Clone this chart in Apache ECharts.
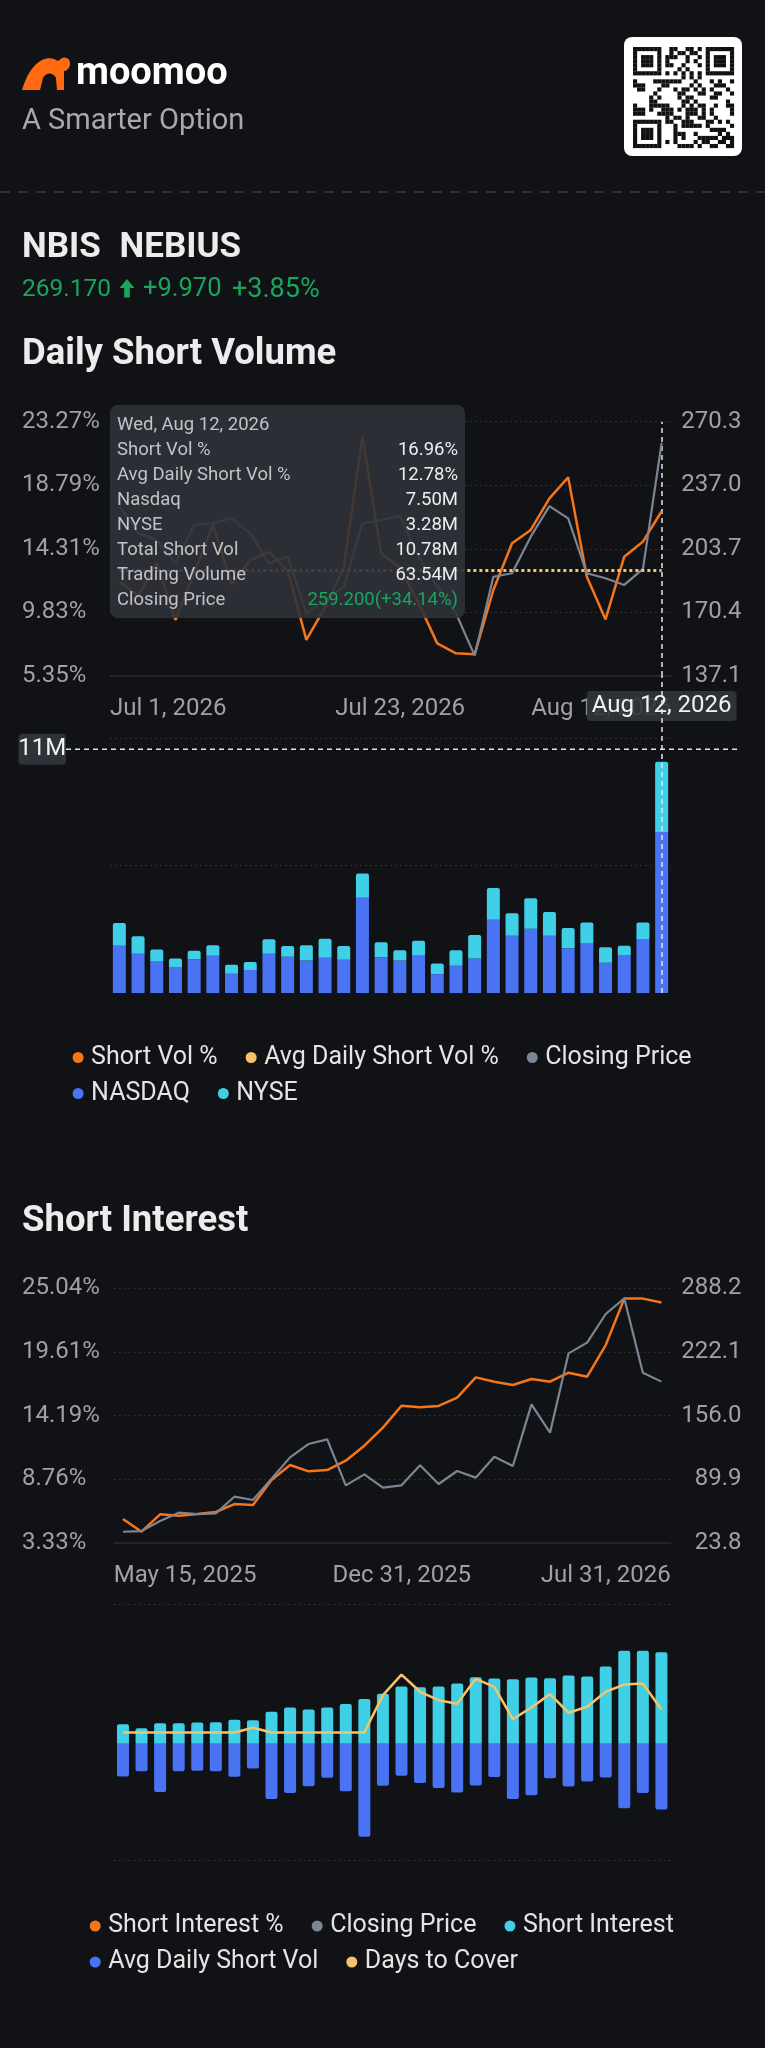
<!DOCTYPE html>
<html>
<head>
<meta charset="utf-8">
<script src="https://cdn.jsdelivr.net/npm/echarts@6/dist/echarts.min.js"></script>
<style>
html,body{margin:0;padding:0;background:#111215;}
#c{width:765px;height:2048px;}
</style>
</head>
<body>
<div id="c"></div>
<script>
// ---------- Daily Short Volume data ----------
const dailyDates = ['Jul 1, 2026','Jul 2, 2026','Jul 6, 2026','Jul 7, 2026','Jul 8, 2026','Jul 9, 2026','Jul 10, 2026',
  'Jul 13, 2026','Jul 14, 2026','Jul 15, 2026','Jul 16, 2026','Jul 17, 2026','Jul 20, 2026','Jul 21, 2026','Jul 22, 2026',
  'Jul 23, 2026','Jul 24, 2026','Jul 27, 2026','Jul 28, 2026','Jul 29, 2026','Jul 30, 2026','Jul 31, 2026',
  'Aug 3, 2026','Aug 4, 2026','Aug 5, 2026','Aug 6, 2026','Aug 7, 2026','Aug 10, 2026','Aug 11, 2026','Aug 12, 2026'];
const dailyShortVolPct = [12.0,11.0,13.3,9.3,12.6,16.0,11.8,13.5,14.1,12.8,7.9,10.2,13.0,22.2,14.0,
  13.0,10.5,7.65,6.95,6.88,11.41,14.70,15.64,17.87,19.35,12.35,9.34,13.76,14.82,16.96];
const dailyAvgShortVolPct = [12.78,12.78,12.78,12.78,12.78,12.78,12.78,12.78,12.78,12.78,12.78,12.78,12.78,12.78,12.78,
  12.78,12.78,12.78,12.78,12.78,12.78,12.78,12.78,12.78,12.78,12.78,12.78,12.78,12.78,12.78];
const dailyClose = [226,212,208.3,196.1,216.2,217.1,219.7,211.8,196.1,199.6,170,177,183.8,217.1,218.8,
  221,199.6,184,170,147.8,189.1,190.9,210.1,226.1,219.7,190.9,188.3,184.8,193.23,259.2];
const dailyNasdaq = [2.20,1.83,1.47,1.19,1.57,1.74,0.90,1.07,1.83,1.69,1.51,1.64,1.55,4.44,1.66,
  1.51,1.75,0.88,1.27,1.61,3.41,2.67,2.99,2.67,2.08,2.31,1.41,1.77,2.51,7.50];
const dailyNyse = [1.06,0.81,0.56,0.42,0.40,0.48,0.42,0.37,0.67,0.50,0.71,0.89,0.64,1.13,0.70,
  0.48,0.69,0.49,0.72,1.09,1.48,1.05,1.42,1.10,0.95,0.98,0.72,0.43,0.78,3.28];
const dailyPctTicks = ['5.35%','9.83%','14.31%','18.79%','23.27%'];
const dailyPriceTicks = ['137.1','170.4','203.7','237.0','270.3'];
const dailyLabelIdx = [0,15,29];
const tipIndex = 29;
const tipTradingVolume = 63.54;   // M, highlighted day
const pointerVolume = 11.36;      // M, horizontal cross-hair level

// ---------- Short Interest data ----------
const siDates = ['May 15, 2025','May 30, 2025','Jun 13, 2025','Jun 30, 2025','Jul 15, 2025','Jul 31, 2025',
  'Aug 15, 2025','Aug 29, 2025','Sep 15, 2025','Sep 30, 2025','Oct 15, 2025','Oct 31, 2025','Nov 14, 2025',
  'Nov 28, 2025','Dec 15, 2025','Dec 31, 2025','Jan 15, 2026','Jan 30, 2026','Feb 13, 2026','Feb 27, 2026',
  'Mar 13, 2026','Mar 31, 2026','Apr 15, 2026','Apr 30, 2026','May 15, 2026','May 29, 2026','Jun 15, 2026',
  'Jun 30, 2026','Jul 15, 2026','Jul 31, 2026'];
const siPct = [5.35,4.27,5.75,5.64,5.78,5.95,6.63,6.55,8.68,9.96,9.42,9.53,10.33,11.61,13.15,
  15.02,14.88,15.00,15.71,17.44,17.07,16.79,17.30,17.07,17.84,17.50,20.20,24.16,24.16,23.82];
const siClose = [35.2,35.9,46.3,55.0,53.6,54.3,71.6,68.2,90.3,112.5,126.4,131.2,83.4,94.8,81.0,
  83.4,104.2,84.8,98.3,91.4,113.2,103.5,167.6,138.2,220.6,231.7,261.5,277.8,200.5,191.2];
const siShares = [11.8,9.4,12.4,12.4,12.8,13.0,14.4,14.2,19.3,21.9,20.7,21.9,23.9,26.9,30.1,
  34.5,34.1,34.5,36.3,40.1,39.3,38.9,39.9,39.5,41.1,40.5,46.5,56.0,56.0,55.1];
const siAvgShortVol = [1.39,1.17,2.05,1.17,1.15,1.17,1.40,1.05,2.35,2.09,1.81,1.44,2.02,3.96,1.78,
  1.36,1.67,1.88,2.07,1.77,1.41,2.35,2.19,1.47,1.82,1.60,1.43,2.74,2.09,2.80];
const siDaysToCover = [1,1,1,1,1,1,1,1.4,1,1,1,1,1,1,4.2,
  5.97,4.49,3.77,3.46,5.6,4.91,2.14,3.14,4.29,2.69,3.2,4.49,5.11,5.2,2.97];
const siPctTicks = ['3.33%','8.76%','14.19%','19.61%','25.04%'];
const siPriceTicks = ['23.8','89.9','156.0','222.1','288.2'];
const siLabelIdx = [0,15,29];

// ---------- styles ----------
const FONT = 'Roboto, "Noto Sans", sans-serif';
const C = {
  bg:'#111215', orange:'#f5761a', yellow:'#f6c36a', gray:'#7c8594', blue:'#4a73f4', cyan:'#3fcfe6',
  label:'#a0a1a6', grid:'#2d2f33', axis:'#2a2c30', green:'#18a65e', white:'#ececec'
};
const dotted = {color:C.grid, type:[2,3], width:1};
const pointerLine = {color:'#e4e4e4', type:[5,4], width:1.5};

// logo shape (bull head)
echarts.graphic.registerShape('moomooBull', echarts.graphic.extendShape({
  shape:{x:0, y:0},
  buildPath:function(ctx, s){
    const x = s.x, y = s.y;
    ctx.moveTo(x+0, y+33);
    ctx.bezierCurveTo(x+4, y+20, x+10, y+8, x+20, y+3);
    ctx.bezierCurveTo(x+26, y+0, x+32, y+1, x+36, y+4);
    ctx.lineTo(x+40, y+1);
    ctx.bezierCurveTo(x+44, y-1, x+49, y+2, x+48, y+8);
    ctx.bezierCurveTo(x+47, y+12, x+44, y+14, x+42, y+14);
    ctx.lineTo(x+42, y+33);
    ctx.lineTo(x+35, y+33);
    ctx.lineTo(x+34, y+21);
    ctx.bezierCurveTo(x+31, y+15, x+24, y+15, x+21, y+21);
    ctx.lineTo(x+18, y+33);
    ctx.closePath();
  }
}));

const chart = echarts.init(document.getElementById('c'), null, {renderer:'canvas', width:765, height:2048});

const hiddenCat = (grid, data, extra) => Object.assign({
  type:'category', gridIndex:grid, data:data, boundaryGap:true, position:'bottom',
  axisLine:{show:false}, axisTick:{show:false}, axisLabel:{show:false}, splitLine:{show:false}
}, extra || {});

const labelCat = (grid, data, idx) => ({
  type:'category', gridIndex:grid, data:data, boundaryGap:false, position:'bottom',
  axisLine:{show:false}, axisTick:{show:false}, splitLine:{show:false},
  axisPointer:{show:false},
  axisLabel:{show:true, interval:(i)=>idx.indexOf(i)>=0, alignMinLabel:'left', alignMaxLabel:'right',
    color:C.label, fontSize:24, fontFamily:FONT, margin:21}
});

const valAxis = (grid, pos, min, max, interval, ticks, margin, align, split) => ({
  type:'value', gridIndex:grid, position:pos, min:min, max:max, interval:interval,
  axisLine:{show:false}, axisTick:{show:false},
  splitLine: split ? {show:true, lineStyle:dotted, showMinLine:false} : {show:false},
  axisLabel:{show:true, formatter:(v,i)=>ticks[i], color:C.label, fontSize:24, fontFamily:FONT,
    margin:margin, align:align}
});

const legendBase = {icon:'circle', itemWidth:16, itemHeight:11, itemGap:28,
  textStyle:{color:'#e4e4e4', fontSize:25, fontFamily:FONT}};

const lineSeries = (name, xi, yi, data, color, width, type) => ({
  name:name, type:'line', xAxisIndex:xi, yAxisIndex:yi, data:data, symbol:'none', showSymbol:false,
  color:color, lineStyle:{width:width, color:color, type:type || 'solid'}, emphasis:{disabled:true}
});

const option = {
  backgroundColor:C.bg,
  animation:false,
  textStyle:{fontFamily:FONT},
  axisPointer:{link:[{xAxisIndex:[0,2]}]},
  tooltip:{
    trigger:'axis', triggerOn:'none', alwaysShowContent:true, showDelay:0, transitionDuration:0,
    position:[110,405], backgroundColor:'rgba(47,50,55,0.9)', borderWidth:0, borderRadius:8,
    padding:[7,7,6,7], extraCssText:'box-shadow:none;',
    axisPointer:{type:'line', lineStyle:pointerLine, animation:false},
    formatter:function(params){
      const i = (Array.isArray(params) ? params[0] : params).dataIndex;
      const wd = ['Sun','Mon','Tue','Wed','Thu','Fri','Sat'][new Date(dailyDates[i]).getDay()];
      const total = dailyNasdaq[i] + dailyNyse[i];
      const chg = (dailyClose[i] / dailyClose[i-1] - 1) * 100;
      const row = (k, v, c) => '<div style="display:flex;justify-content:space-between;height:25px">' +
        '<span>' + k + '</span><span style="color:' + (c || '#ededed') + '">' + v + '</span></div>';
      return '<div style="width:341px;font-family:' + FONT.replace(/"/g,"'") + ';font-size:18.5px;line-height:25px;color:#c2c3c6">' +
        '<div style="height:25px">' + wd + ', ' + dailyDates[i] + '</div>' +
        row('Short Vol %', dailyShortVolPct[i].toFixed(2) + '%') +
        row('Avg Daily Short Vol %', dailyAvgShortVolPct[i].toFixed(2) + '%') +
        row('Nasdaq', dailyNasdaq[i].toFixed(2) + 'M') +
        row('NYSE', dailyNyse[i].toFixed(2) + 'M') +
        row('Total Short Vol', total.toFixed(2) + 'M') +
        row('Trading Volume', tipTradingVolume.toFixed(2) + 'M') +
        row('Closing Price', dailyClose[i].toFixed(3) + '(' + (chg >= 0 ? '+' : '') + chg.toFixed(2) + '%)', C.green) +
        '</div>';
    }
  },
  legend:[
    Object.assign({left:67.6, top:1040, data:['Short Vol %','Avg Daily Short Vol %','Closing Price']}, legendBase),
    Object.assign({left:67.6, top:1076, data:['NASDAQ','NYSE']}, legendBase),
    Object.assign({left:84.7, top:1908.5, data:['Short Interest %','Closing Price','Short Interest']}, legendBase),
    Object.assign({left:84.7, top:1944.5, data:['Avg Daily Short Vol','Days to Cover']}, legendBase)
  ],
  grid:[
    {left:110, right:94, top:421.7, height:254.3},
    {left:110, right:94, top:676, height:317},
    {left:113.7, right:94.3, top:1288.3, height:254.4},
    {left:113.7, right:94.3, top:1604.3, height:255.7}
  ],
  xAxis:[
    hiddenCat(0, dailyDates, {axisLine:{show:true, lineStyle:{color:C.axis, width:1.5}},
      axisPointer:{type:'line', lineStyle:pointerLine, z:1,
        label:{show:true, backgroundColor:'rgba(50,53,58,0.9)', color:'#f2f2f2', fontSize:24, fontFamily:FONT,
          padding:[3,5,3,5], borderRadius:4, margin:15}}}),
    labelCat(0, dailyDates, dailyLabelIdx),
    hiddenCat(1, dailyDates, {axisPointer:{type:'line', lineStyle:pointerLine, label:{show:false}}}),
    hiddenCat(2, siDates, {axisLine:{show:true, lineStyle:{color:C.axis, width:1.5}}, axisPointer:{show:false}}),
    labelCat(2, siDates, siLabelIdx),
    hiddenCat(3, siDates, {axisPointer:{show:false}})
  ],
  yAxis:[
    valAxis(0, 'left', 5.35, 23.27, 4.48, dailyPctTicks, 88, 'left', true),
    valAxis(0, 'right', 137.1, 270.3, 33.3, dailyPriceTicks, 70.5, 'right', false),
    {type:'value', gridIndex:1, position:'left', min:0, max:14.77, interval:5.93,
      axisLine:{show:false}, axisTick:{show:false}, axisLabel:{show:false},
      splitLine:{show:true, lineStyle:dotted, showMinLine:false, showMaxLine:false}},
    valAxis(2, 'left', 3.33, 25.04, 5.4275, siPctTicks, 91.7, 'left', true),
    valAxis(2, 'right', 23.8, 288.2, 66.1, siPriceTicks, 70.8, 'right', false),
    {type:'value', gridIndex:3, position:'left', min:-70, max:84, interval:154,
      axisLine:{show:false}, axisTick:{show:false}, axisLabel:{show:false},
      splitLine:{show:true, lineStyle:dotted}},
    {type:'value', gridIndex:3, position:'right', min:-5.95, max:4.95, inverse:true, show:false},
    {type:'value', gridIndex:3, position:'right', min:-9.95, max:12, show:false}
  ],
  series:[
    lineSeries('Short Vol %', 0, 0, dailyShortVolPct, C.orange, 2.5),
    lineSeries('Closing Price', 0, 1, dailyClose, C.gray, 2.2),
    lineSeries('Avg Daily Short Vol %', 0, 0, dailyAvgShortVolPct, C.yellow, 3, [3,3]),
    {name:'NASDAQ', type:'bar', xAxisIndex:2, yAxisIndex:2, stack:'daily', data:dailyNasdaq,
      barWidth:13, color:C.blue, itemStyle:{color:C.blue}, emphasis:{disabled:true}},
    {name:'NYSE', type:'bar', xAxisIndex:2, yAxisIndex:2, stack:'daily', data:dailyNyse,
      barWidth:13, color:C.cyan, itemStyle:{color:C.cyan, borderRadius:[2,2,0,0]}, emphasis:{disabled:true}},
    lineSeries('Short Interest %', 3, 3, siPct, C.orange, 2.5),
    lineSeries('Closing Price', 3, 4, siClose, C.gray, 2.2),
    {name:'Short Interest', type:'bar', xAxisIndex:5, yAxisIndex:5, data:siShares,
      barWidth:12, barGap:'-100%', color:C.cyan, itemStyle:{color:C.cyan, borderRadius:[2,2,0,0]}},
    {name:'Avg Daily Short Vol', type:'bar', xAxisIndex:5, yAxisIndex:6, data:siAvgShortVol,
      barWidth:12, barGap:'-100%', color:C.blue, itemStyle:{color:C.blue, borderRadius:[0,0,2,2]}},
    lineSeries('Days to Cover', 5, 7, siDaysToCover, C.yellow, 2.5)
  ]
};
chart.setOption(option);

// ---------- header & overlay graphics ----------
function qrCells(){
  const n = 25, cells = [];
  const finders = [[0,0],[18,0],[0,18]];
  for (let y = 0; y < n; y++) for (let x = 0; x < n; x++) {
    let on = null;
    finders.forEach(([fx,fy]) => {
      const dx = x - fx, dy = y - fy;
      if (dx >= 0 && dy >= 0 && dx <= 6 && dy <= 6) on = Math.max(Math.abs(dx-3), Math.abs(dy-3)) !== 2;
    });
    if (on === null) {
      if ((x < 8 && y < 8) || (x > 16 && y < 8) || (x < 8 && y > 16)) on = false;
      else if (y === 6) on = x % 2 === 0;
      else if (x === 6) on = y % 2 === 0;
      else on = ((x*x*3 + y*7 + x*y*5 + (x ^ y)) % 7) < 3;
    }
    if (on) cells.push([x,y]);
  }
  return cells;
}
const qrEls = qrCells().map(([x,y]) => ({type:'rect', shape:{x:633 + x*4.04, y:47 + y*4.04, width:4.15, height:4.15},
  style:{fill:'#111'}, silent:true, z:101}));

const txt = (x, y, text, size, color, weight) => ({type:'text', x:x, y:y, silent:true, z:100,
  style:{text:text, fill:color, fontSize:size, fontFamily:FONT, fontWeight:weight || 'normal', verticalAlign:'middle', align:'left'}});

const hy = chart.convertToPixel({yAxisIndex:2}, pointerVolume);

const graphics = [
  {type:'moomooBull', shape:{x:22, y:57}, style:{fill:'#ff6a13'}, silent:true, z:100},
  txt(76, 74, 'moomoo', 38, '#ffffff', 'bold'),
  txt(22, 122, 'A Smarter Option', 29, '#a9a9ab'),
  {type:'rect', shape:{x:624, y:37, width:118, height:119, r:8}, style:{fill:'#ffffff'}, silent:true, z:100},
  ...qrEls,
  {type:'line', shape:{x1:0, y1:192, x2:765, y2:192}, style:{stroke:'#3a3b3e', lineWidth:1.5, lineDash:[10,8]}, silent:true, z:100},
  txt(22, 248, 'NBIS', 35, C.white, 'bold'),
  txt(119.5, 248, 'NEBIUS', 35, C.white, 'bold'),
  txt(22, 290, '269.170', 24.5, C.green),
  {type:'polygon', silent:true, z:100,
    shape:{points:[[127,279],[134.5,288],[129.8,288],[129.8,297.5],[124.2,297.5],[124.2,288],[119.5,288]]},
    style:{fill:C.green}},
  txt(143, 290, '+9.970', 25.5, C.green),
  txt(232, 290, '+3.85%', 27, C.green),
  txt(22, 355, 'Daily Short Volume', 36.5, C.white, 'bold'),
  txt(22, 1222, 'Short Interest', 36.5, C.white, 'bold'),
  {type:'line', shape:{x1:66, y1:hy, x2:739, y2:hy}, style:{stroke:'#e4e4e4', lineWidth:1.5, lineDash:[5,4]}, silent:true, z:100},
  {type:'rect', shape:{x:18.5, y:hy - 15.5, width:47.5, height:31, r:4}, style:{fill:'rgba(50,53,58,0.95)'}, silent:true, z:101},
  {type:'text', x:42.2, y:hy, silent:true, z:102,
    style:{text:Math.round(pointerVolume) + 'M', fill:'#f2f2f2', fontSize:24, fontFamily:FONT, align:'center', verticalAlign:'middle'}}
];
chart.setOption({graphic:{elements:graphics}});

chart.dispatchAction({type:'showTip', seriesIndex:0, dataIndex:tipIndex});
</script>
</body>
</html>
